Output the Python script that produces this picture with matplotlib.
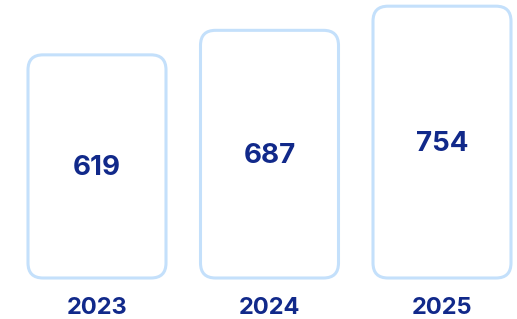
import matplotlib
matplotlib.use("Agg")
import matplotlib.pyplot as plt
from matplotlib.patches import FancyBboxPatch

years = ["2023", "2024", "2025"]
values = [619, 687, 754]

W, H = 517, 319
fig = plt.figure(figsize=(W / 100, H / 100), dpi=100)
ax = fig.add_axes([0, 0, 1, 1])

px_x = 172.5          # pixels per category unit
x0_px = 97            # pixel of first category
px_y = 0.3605         # pixels per value unit
base_px = 41          # baseline pixels from bottom

ax.set_xlim(-x0_px / px_x, (W - x0_px) / px_x)
ax.set_ylim(-base_px / px_y, (H - base_px) / px_y)
ax.axis("off")

bw = 0.8
navy = "#11298a"
edge = "#c4e0fb"
rad_px = 15

for i, (yr, v) in enumerate(zip(years, values)):
    p = FancyBboxPatch((i - bw / 2, 0), bw, v,
                       boxstyle=f"round,pad=0,rounding_size={rad_px / px_x}",
                       mutation_aspect=px_x / px_y,
                       facecolor="white", edgecolor=edge, linewidth=2.2)
    ax.add_patch(p)
    ax.text(i, v / 2 - 2 / px_y, str(v), ha="center", va="center", color=navy,
            fontsize=20, fontweight="bold", family="Inter")
    ax.text(i, -(308 - 278) / px_y, yr, ha="center", va="center", color=navy,
            fontsize=17, fontweight="bold", family="Inter")

fig.savefig("out.png", dpi=100, facecolor="white")
